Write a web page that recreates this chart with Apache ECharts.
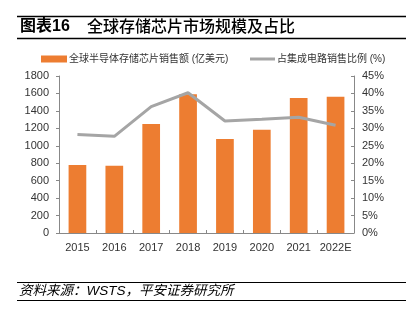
<!DOCTYPE html>
<html><head><meta charset="utf-8">
<script src="https://cdn.jsdelivr.net/npm/echarts@6/dist/echarts.min.js"></script>
<style>html,body{margin:0;padding:0;background:#fff}#c{width:411px;height:321px}</style>
</head><body><div id="c"></div>
<script>
const categories = ['2015','2016','2017','2018','2019','2020','2021','2022E'];
const salesValues = [780, 770, 1250, 1590, 1078, 1185, 1548, 1562];
const shareValues = [28.2, 27.7, 36.2, 40.2, 32.1, 32.6, 33.2, 30.9];
const leftTicks = [0, 1800, 200];
const rightTicks = [0, 45, 5];
const barName = '全球半导体存储芯片销售额 (亿美元)';
const lineName = '占集成电路销售比例 (%)';
const titleText = '图表16';
const titleText2 = '全球存储芯片市场规模及占比';
const sourceText = '资料来源：WSTS，平安证券研究所';

const FONT = '"Liberation Sans", Arial, "Noto Sans CJK SC", sans-serif';
const chart = echarts.init(document.getElementById('c'), null, {renderer: 'canvas'});
chart.setOption({
  animation: false,
  backgroundColor: '#fff',
  textStyle: {fontFamily: FONT},
  grid: {left: 59, right: 57, top: 76, bottom: 88},
  legend: [{
    left: 36, top: 49, itemWidth: 26, itemHeight: 7, itemGap: 2,
    data: [{name: barName, icon: 'rect'}],
    textStyle: {fontSize: 10, color: '#333', fontFamily: FONT, padding: [0,0,0,-3]}
  }, {
    left: 245, top: 49, itemWidth: 25, itemHeight: 3,
    data: [{name: lineName, icon: 'rect'}],
    textStyle: {fontSize: 10, color: '#333', fontFamily: FONT, padding: [0,0,0,-3]}
  }],
  xAxis: {
    type: 'category', data: categories,
    axisLine: {lineStyle: {color: '#888', width: 1}},
    axisTick: {show: true, inside: true, length: 3, lineStyle: {color: '#888'}},
    axisLabel: {fontSize: 11, color: '#333', margin: 9, interval: 0}
  },
  yAxis: [{
    type: 'value', min: leftTicks[0], max: leftTicks[1], interval: leftTicks[2],
    splitLine: {show: false},
    axisLine: {show: true, lineStyle: {color: '#888'}},
    axisTick: {show: true, length: 3, lineStyle: {color: '#888'}},
    axisLabel: {fontSize: 11, color: '#333', margin: 10, formatter: v => String(v)}
  }, {
    type: 'value', min: rightTicks[0], max: rightTicks[1], interval: rightTicks[2],
    splitLine: {show: false},
    axisLine: {show: true, lineStyle: {color: '#888'}},
    axisTick: {show: true, inside: true, length: 3, lineStyle: {color: '#888'}},
    axisLabel: {fontSize: 11, color: '#333', margin: 8, formatter: v => v + '%'}
  }],
  series: [{
    name: barName, type: 'bar', data: salesValues, barWidth: '48%',
    itemStyle: {color: '#ED7D31'}
  }, {
    name: lineName, type: 'line', yAxisIndex: 1, data: shareValues,
    symbol: 'none', lineStyle: {color: '#A5A5A5', width: 3}, itemStyle: {color: '#A5A5A5'}
  }],
  graphic: [
    {type: 'line', shape: {x1: 17, y1: 16.5, x2: 406, y2: 16.5}, style: {stroke: '#000', lineWidth: 1.5}},
    {type: 'line', shape: {x1: 17, y1: 38.5, x2: 406, y2: 38.5}, style: {stroke: '#000', lineWidth: 1.5}},
    {type: 'text', left: 20, top: 19, style: {text: titleText, font: 'bold 16px ' + FONT, fill: '#000'}},
    {type: 'text', left: 87, top: 18, style: {text: titleText2, font: '500 16px "Noto Sans CJK SC", sans-serif', fill: '#000'}},
    {type: 'line', shape: {x1: 17, y1: 282.5, x2: 406, y2: 282.5}, style: {stroke: '#000', lineWidth: 1}},
    {type: 'line', shape: {x1: 17, y1: 300.5, x2: 406, y2: 300.5}, style: {stroke: '#000', lineWidth: 1}},
    {type: 'text', left: 19, top: 284, style: {text: sourceText, font: 'italic 13.5px ' + FONT, fill: '#000'}}
  ]
});
</script></body></html>
